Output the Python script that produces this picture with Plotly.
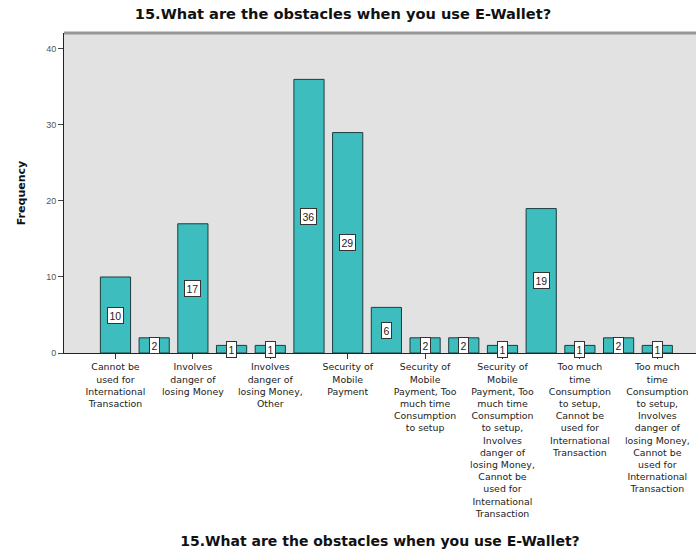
import plotly.graph_objects as go

# Response categories (in coded order) and their counts
categories = [
    "Cannot be used for International Transaction",
    "Cannot be used for International Transaction, Other",
    "Involves danger of losing Money",
    "Involves danger of losing Money, Cannot be used for International Transaction",
    "Involves danger of losing Money, Other",
    "None",
    "Security of Mobile Payment",
    "Security of Mobile Payment, Involves danger of losing Money",
    "Security of Mobile Payment, Too much time Consumption to setup",
    "Security of Mobile Payment, Too much time Consumption to setup, Cannot be used for International Transaction",
    "Security of Mobile Payment, Too much time Consumption to setup, Involves danger of losing Money, Cannot be used for International Transaction",
    "Too much time Consumption to setup",
    "Too much time Consumption to setup, Cannot be used for International Transaction",
    "Too much time Consumption to setup, Involves danger of losing Money",
    "Too much time Consumption to setup, Involves danger of losing Money, Cannot be used for International Transaction",
]
frequency = [10, 2, 17, 1, 1, 36, 29, 6, 2, 2, 1, 19, 1, 2, 1]

# Only every other category gets a visible (wrapped) axis label
label_positions = [0, 2, 4, 6, 8, 10, 12, 14]
tick_labels = [
    "Cannot be<br>used for<br>International<br>Transaction",
    "Involves<br>danger of<br>losing Money",
    "Involves<br>danger of<br>losing Money,<br>Other",
    "Security of<br>Mobile<br>Payment",
    "Security of<br>Mobile<br>Payment, Too<br>much time<br>Consumption<br>to setup",
    "Security of<br>Mobile<br>Payment, Too<br>much time<br>Consumption<br>to setup,<br>Involves<br>danger of<br>losing Money,<br>Cannot be<br>used for<br>International<br>Transaction",
    "Too much<br>time<br>Consumption<br>to setup,<br>Cannot be<br>used for<br>International<br>Transaction",
    "Too much<br>time<br>Consumption<br>to setup,<br>Involves<br>danger of<br>losing Money,<br>Cannot be<br>used for<br>International<br>Transaction",
]
y_ticks = [0, 10, 20, 30, 40]

title_text = "15.What are the obstacles when you use E-Wallet?"
FONT = "Liberation Sans, Arial, sans-serif"
WIDE = "DejaVu Sans, Verdana, sans-serif"

x_idx = list(range(len(categories)))

fig = go.Figure(
    go.Bar(
        x=x_idx,
        y=frequency,
        width=0.78,
        marker=dict(color="rgb(62,189,190)", line=dict(color="rgb(30,60,62)", width=1)),
        hovertext=categories,
        hoverinfo="text+y",
    )
)

# Value boxes centred in each bar
for xi, v in zip(x_idx, frequency):
    fig.add_annotation(
        x=xi, y=v / 2, text=str(v), showarrow=False,
        font=dict(family=FONT, size=10.5, color="#2a1a1a"),
        bgcolor="white", bordercolor="#333", borderwidth=1, borderpad=1.5,
        xref="x", yref="y",
    )

# Frame line along the top of the plot area
fig.add_shape(type="line", xref="paper", yref="paper", x0=0, x1=1, y0=1, y1=1,
              line=dict(color="rgb(150,150,150)", width=3))

fig.update_layout(
    width=696, height=553,
    margin=dict(l=64, r=0, t=33, b=200),
    paper_bgcolor="white",
    plot_bgcolor="rgb(226,226,226)",
    showlegend=False,
    font=dict(family=FONT, color="#222"),
    title=dict(
        text="<b>" + title_text + "</b>",
        x=343 / 696, xanchor="center", xref="container",
        y=1 - 14 / 553, yanchor="middle", yref="container",
        font=dict(family=WIDE, size=14.6, color="#111"),
    ),
)

fig.update_xaxes(
    range=[-1.33, 15.0],
    tickmode="array",
    tickvals=label_positions,
    ticktext=tick_labels,
    tickangle=0,
    ticks="outside", ticklen=5, tickcolor="#333",
    tickfont=dict(family=WIDE, size=9.4, color="#222"),
    showline=True, linecolor="#222", linewidth=1,
    showgrid=False, zeroline=False,
    title=dict(text="<b>" + title_text + "</b>", font=dict(family=WIDE, size=14, color="#111"),
               standoff=18),
    automargin=False,
)

fig.update_yaxes(
    range=[0, 42.1],
    tickmode="array", tickvals=y_ticks,
    ticks="outside", ticklen=5, tickcolor="#444",
    tickfont=dict(family=FONT, size=9, color="#555"),
    showline=True, linecolor="#222", linewidth=1,
    showgrid=False, zeroline=False,
    title=dict(text="<b>Frequency</b>", font=dict(family=WIDE, size=11, color="#111"), standoff=18),
    automargin=False,
)

fig.write_html("out.html")
